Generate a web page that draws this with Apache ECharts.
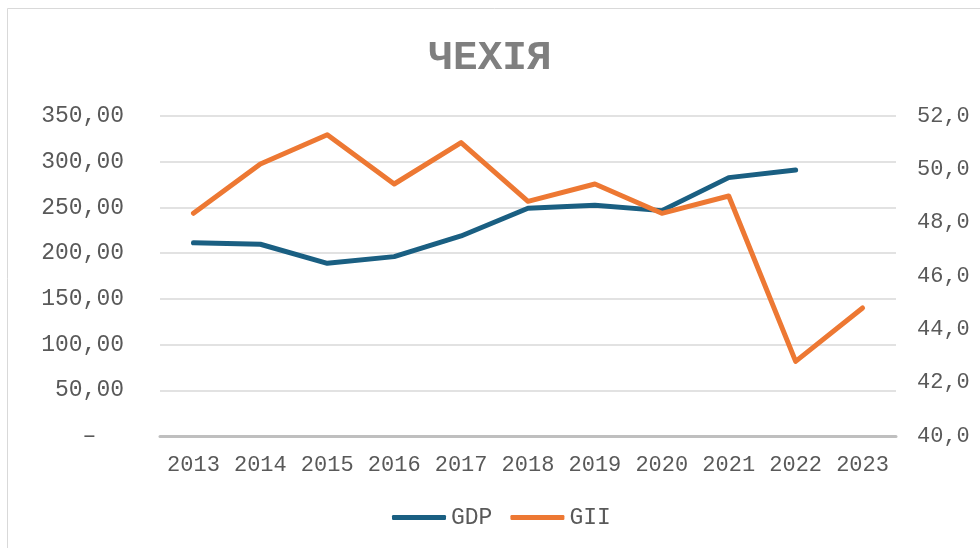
<!DOCTYPE html>
<html>
<head>
<meta charset="utf-8">
<script src="https://cdn.jsdelivr.net/npm/echarts@6/dist/echarts.min.js"></script>
<style>
html,body{margin:0;padding:0;background:#fff;}
#chart{width:980px;height:548px;}
</style>
</head>
<body>
<div id="chart"></div>
<script>
const titleText = 'ЧЕХІЯ';
const years = ['2013','2014','2015','2016','2017','2018','2019','2020','2021','2022','2023'];
const gdp = [211.4, 209.7, 188.9, 196.2, 218.8, 249.1, 252.4, 246.5, 282.6, 291.0, null];
const gii = [48.35, 50.2, 51.3, 49.45, 51.0, 48.8, 49.45, 48.35, 49.0, 42.8, 44.8];
const leftTicks = [0, 50, 100, 150, 200, 250, 300, 350];
const rightTicks = [40, 42, 44, 46, 48, 50, 52];

const FONT = "'Liberation Mono', 'Courier New', 'DejaVu Sans Mono', monospace";
const chart = echarts.init(document.getElementById('chart'));
chart.setOption({
  animation: false,
  backgroundColor: '#fff',
  title: {
    text: titleText,
    left: 'center',
    top: 33,
    padding: [5, 5, 5, 19],
    textStyle: {fontFamily: "'Liberation Mono', 'DejaVu Sans Mono', monospace", fontSize: 41, fontWeight: 'bold', color: '#7f7f7f'}
  },
  graphic: [{
    type: 'rect', shape: {x: 7.5, y: 8.5, width: 1000, height: 600},
    style: {fill: 'none', stroke: '#d9d9d9', lineWidth: 1}, silent: true
  }],
  legend: {
    bottom: 19,
    left: 392,
    padding: 0,
    itemWidth: 54,
    itemHeight: 5,
    itemGap: 18,
    icon: 'roundRect',
    textStyle: {fontFamily: FONT, fontSize: 23, color: '#595959'},
    data: ['GDP', 'GII']
  },
  grid: {left: 160, right: 84, top: 116, bottom: 112, containLabel: false},
  xAxis: {
    type: 'category',
    data: years,
    boundaryGap: true,
    axisLine: {lineStyle: {color: '#bfbfbf', width: 3}},
    axisTick: {show: false},
    axisLabel: {fontFamily: FONT, fontSize: 22, color: '#595959', margin: 18, interval: 0}
  },
  yAxis: [{
    type: 'value', min: leftTicks[0], max: leftTicks[leftTicks.length - 1], interval: 50,
    axisLine: {show: false}, axisTick: {show: false},
    splitLine: {lineStyle: {color: '#d9d9d9', width: 1.5}},
    axisLabel: {
      fontFamily: FONT, fontSize: 23, color: '#595959', margin: 36,
      formatter: v => v === 0 ? '–  ' : v.toFixed(2).replace('.', ',')
    }
  }, {
    type: 'value', min: rightTicks[0], max: rightTicks[rightTicks.length - 1], interval: 2,
    axisLine: {show: false}, axisTick: {show: false},
    splitLine: {show: false},
    axisLabel: {
      fontFamily: FONT, fontSize: 22, color: '#595959', margin: 21,
      formatter: v => v.toFixed(1).replace('.', ',')
    }
  }],
  series: [{
    name: 'GDP', type: 'line', data: gdp, yAxisIndex: 0,
    showSymbol: false, symbol: 'none', connectNulls: false,
    lineStyle: {color: '#1a5f82', width: 5, cap: 'round', join: 'round'},
    itemStyle: {color: '#1a5f82'}
  }, {
    name: 'GII', type: 'line', data: gii, yAxisIndex: 1,
    showSymbol: false, symbol: 'none',
    lineStyle: {color: '#ed7833', width: 5, cap: 'round', join: 'round'},
    itemStyle: {color: '#ed7833'}
  }]
});
</script>
</body>
</html>
